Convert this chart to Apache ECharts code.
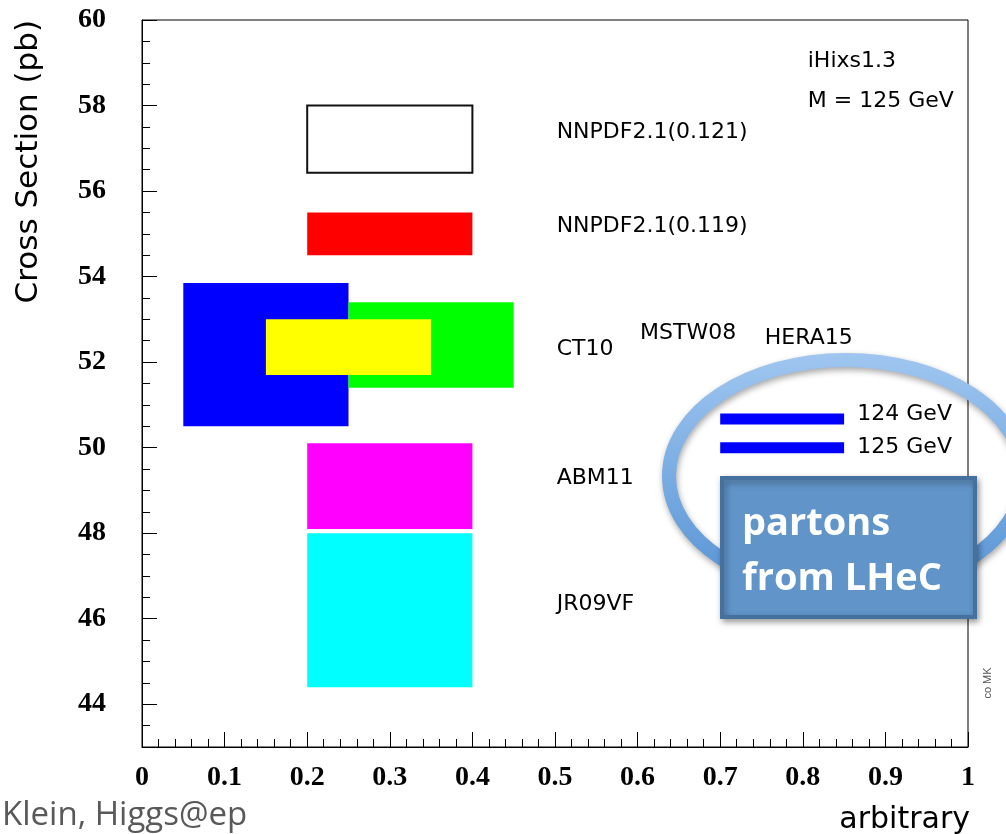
<!DOCTYPE html>
<html><head><meta charset="utf-8">
<script src="https://cdn.jsdelivr.net/npm/echarts@6/dist/echarts.min.js"></script>
<style>html,body{margin:0;padding:0;background:#fff}#c{width:1006px;height:834px}</style>
</head><body><div id="c"></div>
<script>
// ---- data ----
const pdfNames  = ['NNPDF2.1(0.121)', 'NNPDF2.1(0.119)', 'CT10', 'MSTW08', 'HERA15', 'ABM11', 'JR09VF'];
const boxXLow   = [0.20, 0.20, 0.05, 0.25, 0.15, 0.20, 0.20];
const boxXHigh  = [0.40, 0.40, 0.25, 0.45, 0.35, 0.40, 0.40];
const boxYLow   = [56.43, 54.50, 50.50, 51.40, 51.70, 48.10, 44.40];
const boxYHigh  = [58.00, 55.50, 53.85, 53.40, 53.00, 50.10, 48.00];
const boxColors = ['#ffffff', '#ff0000', '#0000ff', '#00ff00', '#ffff00', '#ff00ff', '#00ffff'];

const labelTexts = ['NNPDF2.1(0.121)', 'NNPDF2.1(0.119)', 'CT10', 'MSTW08', 'HERA15', 'ABM11', 'JR09VF', 'iHixs1.3', 'M = 125 GeV', '124 GeV', '125 GeV'];
const labelX     = [0.502, 0.502, 0.502, 0.603, 0.754, 0.502, 0.502, 0.806, 0.806, 0.866, 0.866];
const labelY     = [57.37, 55.17, 52.31, 52.67, 52.55, 49.29, 46.34, 59.03, 58.10, 50.77, 50.00];

const massNames  = ['124 GeV', '125 GeV'];
const massXStart = 0.70;
const massXEnd   = 0.85;
const massValues = [50.67, 50.00];

const yMajorTicks = [44, 46, 48, 50, 52, 54, 56, 58, 60];
const yMinorTicks = [];
for (let v = 43.5; v < 60; v += 0.5) yMinorTicks.push(v);

// ---- chart ----
const chart = echarts.init(document.getElementById('c'), null, {renderer: 'canvas'});

const boxData = pdfNames.map((n, i) => [boxXLow[i], boxXHigh[i], boxYLow[i], boxYHigh[i], i]);
const textData = labelTexts.map((t, i) => [labelX[i], labelY[i], i]);

const plotFont = 'DejaVu Sans';

const series = [
  {
    type: 'custom', name: 'boxes', silent: true, z: 2,
    data: boxData,
    encode: {x: [0, 1], y: [2, 3]},
    renderItem: function (params, api) {
      const i = api.value(4);
      const p0 = api.coord([api.value(0), api.value(3)]);
      const p1 = api.coord([api.value(1), api.value(2)]);
      return {
        type: 'rect',
        shape: {x: p0[0], y: p0[1], width: p1[0] - p0[0], height: p1[1] - p0[1]},
        style: {fill: boxColors[i], stroke: i === 0 ? '#111' : null, lineWidth: i === 0 ? 2 : 0}
      };
    }
  },
  {
    type: 'custom', name: 'labels', silent: true, z: 3,
    data: textData,
    encode: {x: 0, y: 1},
    renderItem: function (params, api) {
      const i = api.value(2);
      const p = api.coord([api.value(0), api.value(1)]);
      return {
        type: 'text', x: p[0], y: p[1],
        style: {text: labelTexts[i], fontFamily: plotFont, fontSize: 22, fill: '#000', align: 'left', verticalAlign: 'middle'}
      };
    }
  }
];
massValues.forEach((v, i) => {
  series.push({
    type: 'line', name: massNames[i], silent: true, z: 3,
    data: [[massXStart, v], [massXEnd, v]],
    symbol: 'none',
    lineStyle: {color: '#0000ff', width: 11, cap: 'butt'}
  });
});

const option = {
  animation: false,
  backgroundColor: '#fff',
  grid: {left: 142, right: 38, top: 20, bottom: 87, show: true, borderColor: '#000', borderWidth: 1, backgroundColor: 'transparent'},
  xAxis: {
    type: 'value', min: 0, max: 1, interval: 0.1,
    axisLine: {lineStyle: {color: '#000', width: 1}},
    axisTick: {inside: true, length: 15, lineStyle: {color: '#000', width: 1}},
    minorTick: {show: true, splitNumber: 5, length: 8, lineStyle: {color: '#000', width: 1}},
    splitLine: {show: false},
    axisLabel: {fontFamily: 'Liberation Serif', fontWeight: 'bold', fontSize: 28, color: '#000', margin: 17}
  },
  yAxis: [
    {
      type: 'value', min: 43, max: 60, position: 'left',
      axisLine: {show: true, lineStyle: {color: '#000', width: 1}},
      axisTick: {show: true, inside: true, length: 15, customValues: yMajorTicks, lineStyle: {color: '#000', width: 1}},
      axisLabel: {customValues: yMajorTicks, fontFamily: 'Liberation Serif', fontWeight: 'bold', fontSize: 28, color: '#000', margin: 36},
      splitLine: {show: false}
    },
    {
      type: 'value', min: 43, max: 60, position: 'left', offset: 0,
      axisLine: {show: false},
      axisTick: {show: true, inside: true, length: 8, customValues: yMinorTicks, lineStyle: {color: '#000', width: 1}},
      axisLabel: {show: false},
      splitLine: {show: false}
    }
  ],
  series: series,
  graphic: [
    {
      type: 'text', x: 29, y: 20, rotation: Math.PI / 2, z: 10,
      style: {text: 'Cross Section (pb)', fontFamily: plotFont, fontSize: 31, fill: '#000', align: 'right', verticalAlign: 'middle'}
    },
    {
      type: 'text', x: 970, y: 820, z: 10,
      style: {text: 'arbitrary', fontFamily: plotFont, fontSize: 30, fill: '#000', align: 'right', verticalAlign: 'middle'}
    },
    {
      type: 'text', x: 2, y: 816, z: 10,
      style: {text: 'Klein, Higgs@ep', fontFamily: 'Open Sans', fontSize: 33, fill: '#595959', align: 'left', verticalAlign: 'middle'}
    },
    {
      type: 'text', x: 988, y: 683, rotation: Math.PI / 2, z: 10,
      style: {text: 'co MK', fontFamily: 'Liberation Sans', fontSize: 11, fill: '#555', align: 'center', verticalAlign: 'middle'}
    },
    {
      type: 'ellipse', z: 20,
      shape: {cx: 846, cy: 476, rx: 177, ry: 116},
      style: {
        fill: null, lineWidth: 14,
        stroke: {type: 'linear', x: 0, y: 0, x2: 0, y2: 1, colorStops: [{offset: 0, color: '#9fc6f0'}, {offset: 1, color: '#5592d4'}]},
        shadowBlur: 6, shadowColor: 'rgba(0,0,0,0.35)', shadowOffsetX: 1, shadowOffsetY: 3
      }
    },
    {
      type: 'rect', z: 21,
      shape: {x: 722, y: 478, width: 253, height: 139},
      style: {fill: '#6195c9', stroke: '#46719f', lineWidth: 4, shadowBlur: 6, shadowColor: 'rgba(0,0,0,0.35)', shadowOffsetX: 2, shadowOffsetY: 3}
    },
    {
      type: 'text', x: 742, y: 524, z: 22,
      style: {text: 'partons', fontFamily: 'Open Sans', fontWeight: 'bold', fontSize: 38, fill: '#fff', align: 'left', verticalAlign: 'middle'}
    },
    {
      type: 'text', x: 742, y: 579, z: 22,
      style: {text: 'from LHeC', fontFamily: 'Open Sans', fontWeight: 'bold', fontSize: 38, fill: '#fff', align: 'left', verticalAlign: 'middle'}
    }
  ]
};
chart.setOption(option);
</script>
</body></html>
